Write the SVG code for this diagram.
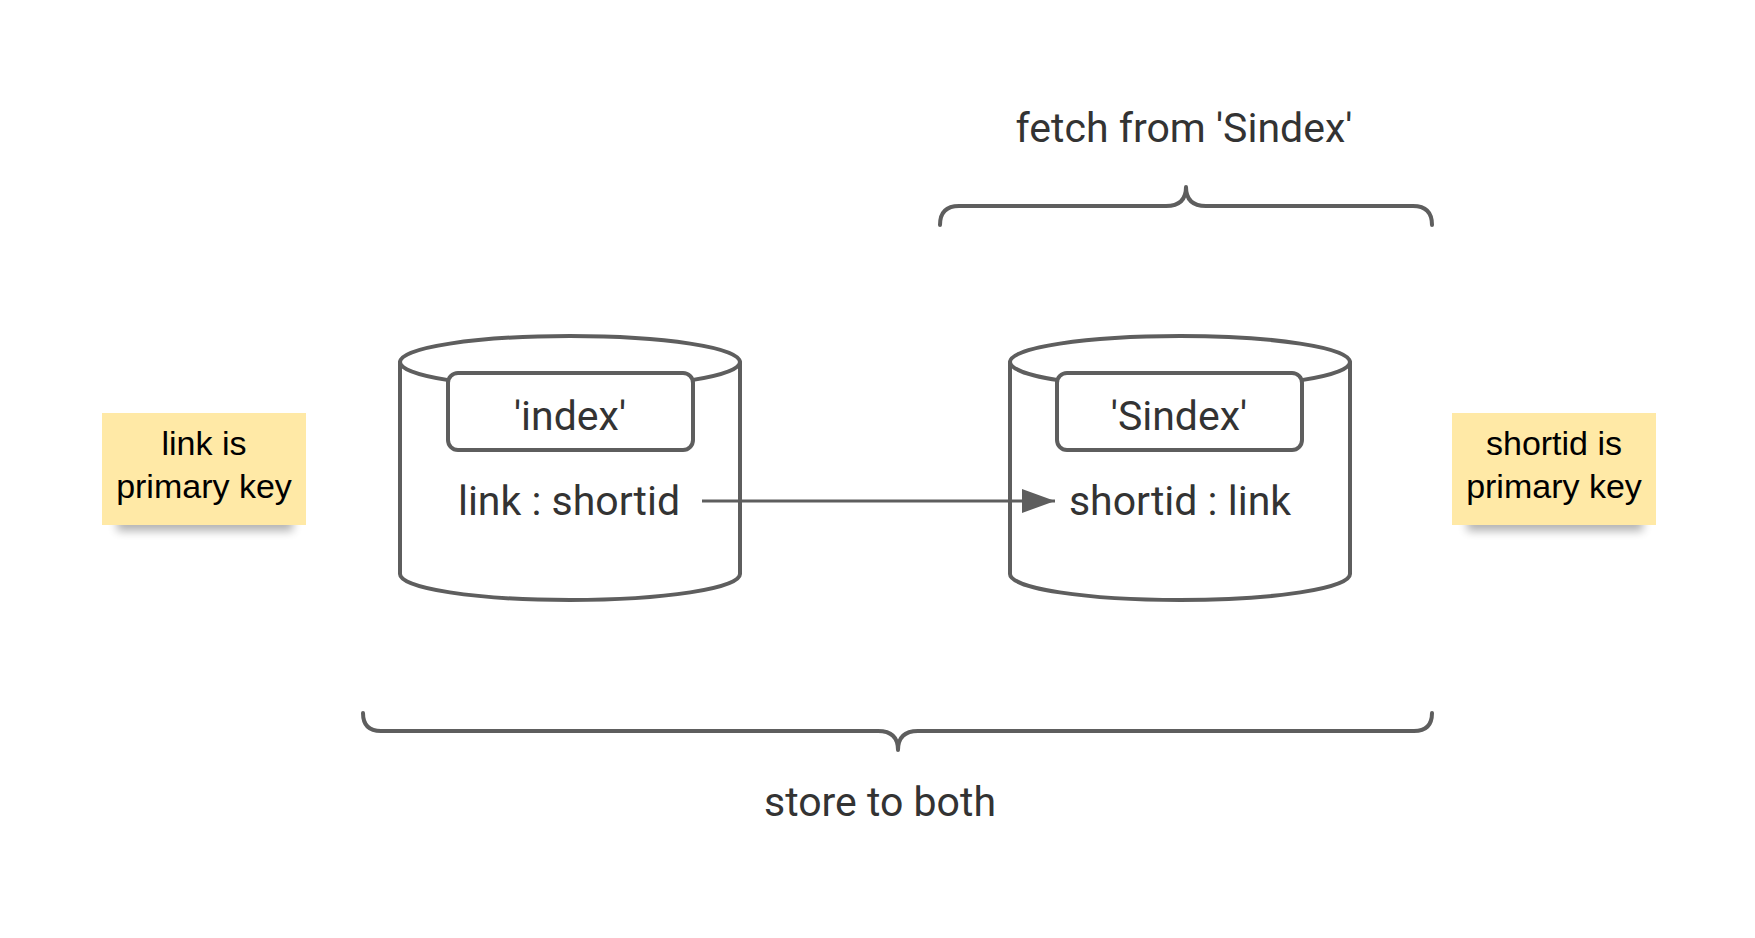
<svg xmlns="http://www.w3.org/2000/svg" width="1755" height="938" viewBox="0 0 1755 938">
<style>
.ln{fill:none;stroke:#5e5e5e;stroke-width:4;stroke-linecap:round;stroke-linejoin:round}
.cyl{fill:#fff;stroke:#5e5e5e;stroke-width:4}
.box{fill:#fff;stroke:#5e5e5e;stroke-width:4}
.t{font-family:Roboto,"Liberation Sans",sans-serif;font-size:41px;fill:#333;text-anchor:middle}
.st{font-family:"Liberation Sans",Arial,sans-serif;font-size:34px;fill:#000;text-anchor:middle}
.note{fill:#ffe9a6}
</style>
<defs>
<filter id="sh" x="-20%" y="-100%" width="140%" height="300%"><feGaussianBlur stdDeviation="5"/></filter>
<marker id="ah" markerWidth="12" markerHeight="8" refX="11" refY="4" orient="auto" markerUnits="strokeWidth"><path d="M0,0 L11,4 L0,8 Z" fill="#5e5e5e"/></marker>
</defs>
<rect width="1755" height="938" fill="#fff"/>

<g id="note-left">
<rect x="117" y="515" width="176" height="16" fill="#000" opacity="0.3" filter="url(#sh)"/>
<rect class="note" x="102" y="413" width="204" height="112"/>
<text class="st" x="204" y="455">link is</text>
<text class="st" x="204" y="498">primary key</text>
</g>

<g id="note-right">
<rect x="1467" y="515" width="176" height="16" fill="#000" opacity="0.3" filter="url(#sh)"/>
<rect class="note" x="1452" y="413" width="204" height="112"/>
<text class="st" x="1554" y="455">shortid is</text>
<text class="st" x="1554" y="498">primary key</text>
</g>

<g id="db-index">
<path class="cyl" d="M400,362 A170,26 0 0 1 740,362 V574 A170,26 0 0 1 400,574 Z"/>
<path class="ln" d="M400,362 A170,26 0 0 0 740,362"/>
<rect class="box" x="448" y="373" width="245" height="77" rx="10"/>
<text class="t" x="570" y="430">'index'</text>
<text class="t" x="569" y="515">link : shortid</text>
</g>

<g id="db-sindex">
<path class="cyl" d="M1010,362 A170,26 0 0 1 1350,362 V574 A170,26 0 0 1 1010,574 Z"/>
<path class="ln" d="M1010,362 A170,26 0 0 0 1350,362"/>
<rect class="box" x="1057" y="373" width="245" height="77" rx="10"/>
<text class="t" x="1179" y="430">'Sindex'</text>
<text class="t" x="1180" y="515">shortid : link</text>
</g>

<g id="brace-fetch">
<path class="ln" stroke-width="4.5" d="M940,225 Q940,206 959,206 H1166 Q1186,206 1186,187 Q1186,206 1206,206 H1413 Q1432,206 1432,225"/>
<text class="t" x="1184" y="142">fetch from 'Sindex'</text>
</g>

<g id="brace-store">
<path class="ln" stroke-width="4.5" d="M363,713 Q363,731 381,731 H878 Q898,731 898,750 Q898,731 918,731 H1414 Q1432,731 1432,713"/>
<text class="t" x="880" y="816">store to both</text>
</g>

<g id="connectors">
<line x1="702" y1="501" x2="1055" y2="501" stroke="#5e5e5e" stroke-width="3" marker-end="url(#ah)"/>
</g>
</svg>
